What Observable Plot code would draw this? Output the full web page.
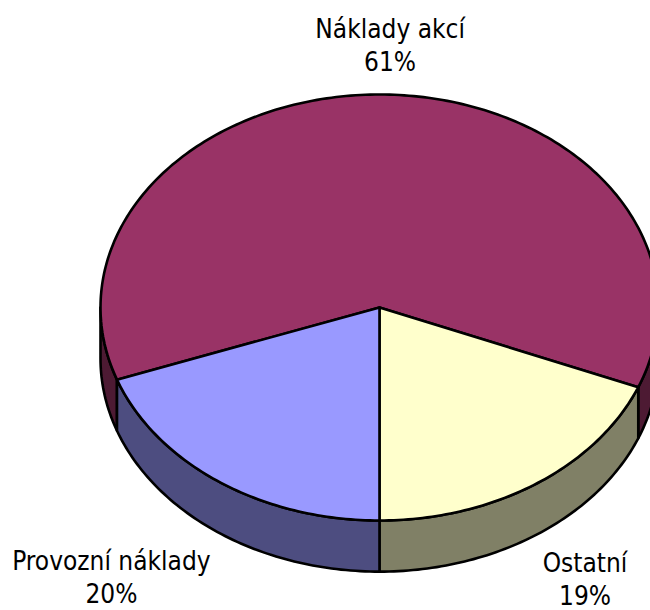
<!DOCTYPE html>
<html><head><meta charset="utf-8">
<script src="https://cdn.jsdelivr.net/npm/d3@7"></script>
<script src="https://cdn.jsdelivr.net/npm/@observablehq/plot@0.6"></script>
<style>html,body{margin:0;padding:0;background:#fff}svg{display:block}</style>
</head><body><div id="chart"></div>
<script>
const categories = ["Náklady akcí", "Ostatní", "Provozní náklady"];
const percentLabels = [61, 19, 20];
const sliceShares = [61.6, 18.9, 19.5]; // as drawn in the picture
const topColors = ["#993366", "#FFFFCC", "#9999FF"];
const sideColors = ["#4D1A33", "#808066", "#4D4D80"];
const labelX = [0.038, 0.7366, -0.961];
const labelY = [1.237, -1.27, -1.261];
const startAngle = 250.2;
const depth = 0.24;

const rad = d => d * Math.PI / 180;
const rim = (a, drop = 0) => ({x: Math.sin(rad(a)), y: Math.cos(rad(a)) - drop});
const arc = (a0, a1) => {
  const n = Math.max(2, Math.ceil(Math.abs(a1 - a0)));
  return d3.range(n + 1).map(i => a0 + (a1 - a0) * i / n);
};

const total = d3.sum(sliceShares);
let cursor = startAngle;
const slices = sliceShares.map((v, i) => {
  const a0 = cursor, a1 = cursor + v / total * 360;
  cursor = a1;
  return {i, a0, a1};
});

// visible part of each slice's wall: the front half, angles 90..270 (mod 360)
const walls = slices.flatMap(({i, a0, a1}) =>
  [[90, 270], [450, 630]].map(([f0, f1]) => [Math.max(a0, f0), Math.min(a1, f1), i])
    .filter(([s, e]) => e > s)
);

const outline = {x: "x", y: "y", stroke: "#000", strokeWidth: 2.6, strokeLinejoin: "round"};
const marks = [];
for (const [s, e, i] of walls) {
  const pts = [...arc(s, e).map(a => rim(a)), ...arc(e, s).map(a => rim(a, depth))];
  pts.push(pts[0]);
  marks.push(Plot.line(pts, {...outline, fill: sideColors[i]}));
}
for (const {i, a0, a1} of slices) {
  const pts = [{x: 0, y: 0}, ...arc(a0, a1).map(a => rim(a)), {x: 0, y: 0}];
  marks.push(Plot.line(pts, {...outline, fill: topColors[i]}));
}
marks.push(Plot.text(categories.map((c, i) => ({c, v: percentLabels[i], x: labelX[i], y: labelY[i]})), {
  x: "x", y: "y", text: d => `${d.c}\n${d.v}%`,
  lineHeight: 1.27, fontSize: 26, fill: "#000", textAnchor: "middle"
}));

const chart = Plot.plot({
  width: 650, height: 610,
  marginTop: 0, marginRight: 0, marginBottom: 0, marginLeft: 0,
  x: {domain: [-1, 1], range: [100, 658], axis: null},
  y: {domain: [-1, 1], range: [520, 94], axis: null},
  style: {background: "#fff", fontFamily: "'DejaVu Sans Condensed','DejaVu Sans',sans-serif"},
  marks
});
document.getElementById("chart").append(chart);
</script></body></html>
